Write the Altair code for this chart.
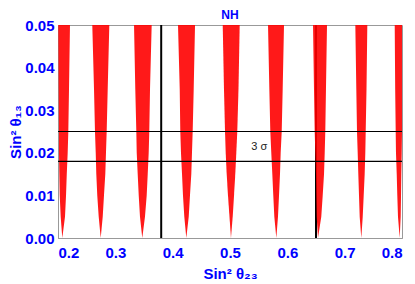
import altair as alt
import pandas as pd

# y levels at which the edges of each red band were read
y_levels = [0.0, 0.005, 0.01, 0.015, 0.02, 0.025, 0.035, 0.05]

lobe_left = [
    [0.2075, 0.2047, 0.2030, 0.2023, 0.2017, 0.2017, 0.2012, 0.2005],
    [0.2745, 0.2710, 0.2685, 0.2668, 0.2658, 0.2645, 0.2628, 0.2598],
    [0.3470, 0.3430, 0.3408, 0.3390, 0.3373, 0.3366, 0.3348, 0.3326],
    [0.4238, 0.4203, 0.4180, 0.4163, 0.4145, 0.4133, 0.4123, 0.4093],
    [0.5017, 0.4991, 0.4965, 0.4942, 0.4925, 0.4913, 0.4895, 0.4873],
    [0.5808, 0.5773, 0.5755, 0.5738, 0.5720, 0.5703, 0.5686, 0.5663],
    [0.6535, 0.6512, 0.6505, 0.6500, 0.6488, 0.6477, 0.6465, 0.6448],
    [0.7290, 0.7262, 0.7250, 0.7238, 0.7227, 0.7215, 0.7203, 0.7186],
    [0.7960, 0.7930, 0.7918, 0.7908, 0.7895, 0.7890, 0.7881, 0.7873],
]
lobe_right = [
    [0.2075, 0.2122, 0.2140, 0.2153, 0.2169, 0.2180, 0.2192, 0.2209],
    [0.2745, 0.2780, 0.2802, 0.2825, 0.2837, 0.2849, 0.2867, 0.2895],
    [0.3470, 0.3517, 0.3547, 0.3565, 0.3582, 0.3592, 0.3605, 0.3634],
    [0.4238, 0.4280, 0.4302, 0.4325, 0.4337, 0.4349, 0.4367, 0.4390],
    [0.5017, 0.5047, 0.5070, 0.5092, 0.5110, 0.5127, 0.5148, 0.5169],
    [0.5808, 0.5837, 0.5855, 0.5872, 0.5884, 0.5902, 0.5919, 0.5942],
    [0.6535, 0.6592, 0.6617, 0.6640, 0.6652, 0.6662, 0.6674, 0.6692],
    [0.7290, 0.7315, 0.7332, 0.7349, 0.7360, 0.7367, 0.7381, 0.7395],
    [0.7960, 0.7977, 0.7983, 0.7988, 0.7995, 0.8000, 0.8000, 0.8000],
]

h_lines = [0.018, 0.025]
v_lines = [0.38, 0.65]
sigma_label = ["3 σ"]
sigma_x = [0.551]
sigma_y = [0.0213]
panel_title = "NH"

x_ticks = [0.2, 0.3, 0.4, 0.5, 0.6, 0.7, 0.8]
y_ticks = [0.0, 0.01, 0.02, 0.03, 0.04, 0.05]

rows = []
for i, (lefts, rights) in enumerate(zip(lobe_left, lobe_right)):
    for y, xl, xr in zip(y_levels, lefts, rights):
        rows.append({"lobe": i, "y": y, "xl": xl, "xr": xr})
lobes = pd.DataFrame(rows)

BLUE = "#0000ff"
FONT = "Liberation Sans"

xscale = alt.Scale(domain=[0.2, 0.8], nice=False, zero=False)
yscale = alt.Scale(domain=[0, 0.05], nice=False, zero=False)

xaxis = alt.Axis(values=x_ticks, format=".1f", title="Sin² θ₂₃", grid=False,
                 ticks=False, labelPadding=7,
                 titleBaseline="alphabetic", titleY=40, titleAlign="center")
yaxis = alt.Axis(values=y_ticks, format=".2f", title="Sin² θ₁₃", grid=False,
                 ticks=False, labelPadding=4,
                 titleX=-50, titleY=106.5, titleAngle=-90,
                 titleBaseline="top", titleAlign="center")

vrules = alt.Chart(pd.DataFrame({"x": v_lines})).mark_rule(
    color="black", strokeWidth=2
).encode(x=alt.X("x:Q", scale=xscale, axis=xaxis))

areas = alt.Chart(lobes).mark_area(
    orient="horizontal", color="#ff0000", fillOpacity=0.9, clip=True
).encode(
    y=alt.Y("y:Q", scale=yscale, axis=yaxis),
    x=alt.X("xl:Q", scale=xscale, axis=xaxis),
    x2="xr:Q",
    detail="lobe:N",
)

hrules = alt.Chart(pd.DataFrame({"y": h_lines})).mark_rule(
    color="black", strokeWidth=1.2
).encode(y=alt.Y("y:Q", scale=yscale, axis=yaxis))

label = alt.Chart(pd.DataFrame({"t": sigma_label, "x": sigma_x, "y": sigma_y})).mark_text(
    font=FONT, fontSize=11, color="#222222"
).encode(
    x=alt.X("x:Q", scale=xscale, axis=xaxis),
    y=alt.Y("y:Q", scale=yscale, axis=yaxis),
    text="t:N",
)

title_mark = alt.Chart(pd.DataFrame({"t": [panel_title]})).mark_text(
    font=FONT, fontSize=12, fontWeight="bold", color=BLUE,
    baseline="alphabetic", align="center"
).encode(
    x=alt.datum(0.5, scale=xscale),
    y=alt.value(-6.5),
    text="t:N",
)

chart = alt.layer(vrules, areas, hrules, label, title_mark).properties(
    width=344,
    height=213,
    autosize=alt.AutoSizeParams(type="none"),
    padding={"left": 50, "top": 17, "right": 5, "bottom": 46},
).configure_view(
    stroke="#999999", strokeWidth=1
).configure_axis(
    domainColor="#999999",
    labelFont=FONT, labelFontSize=15, labelFontWeight="bold", labelColor=BLUE,
    titleFont=FONT, titleFontSize=15, titleFontWeight="bold", titleColor=BLUE,
)

chart.save("out.html", embed_options={"renderer": "svg", "actions": False})
